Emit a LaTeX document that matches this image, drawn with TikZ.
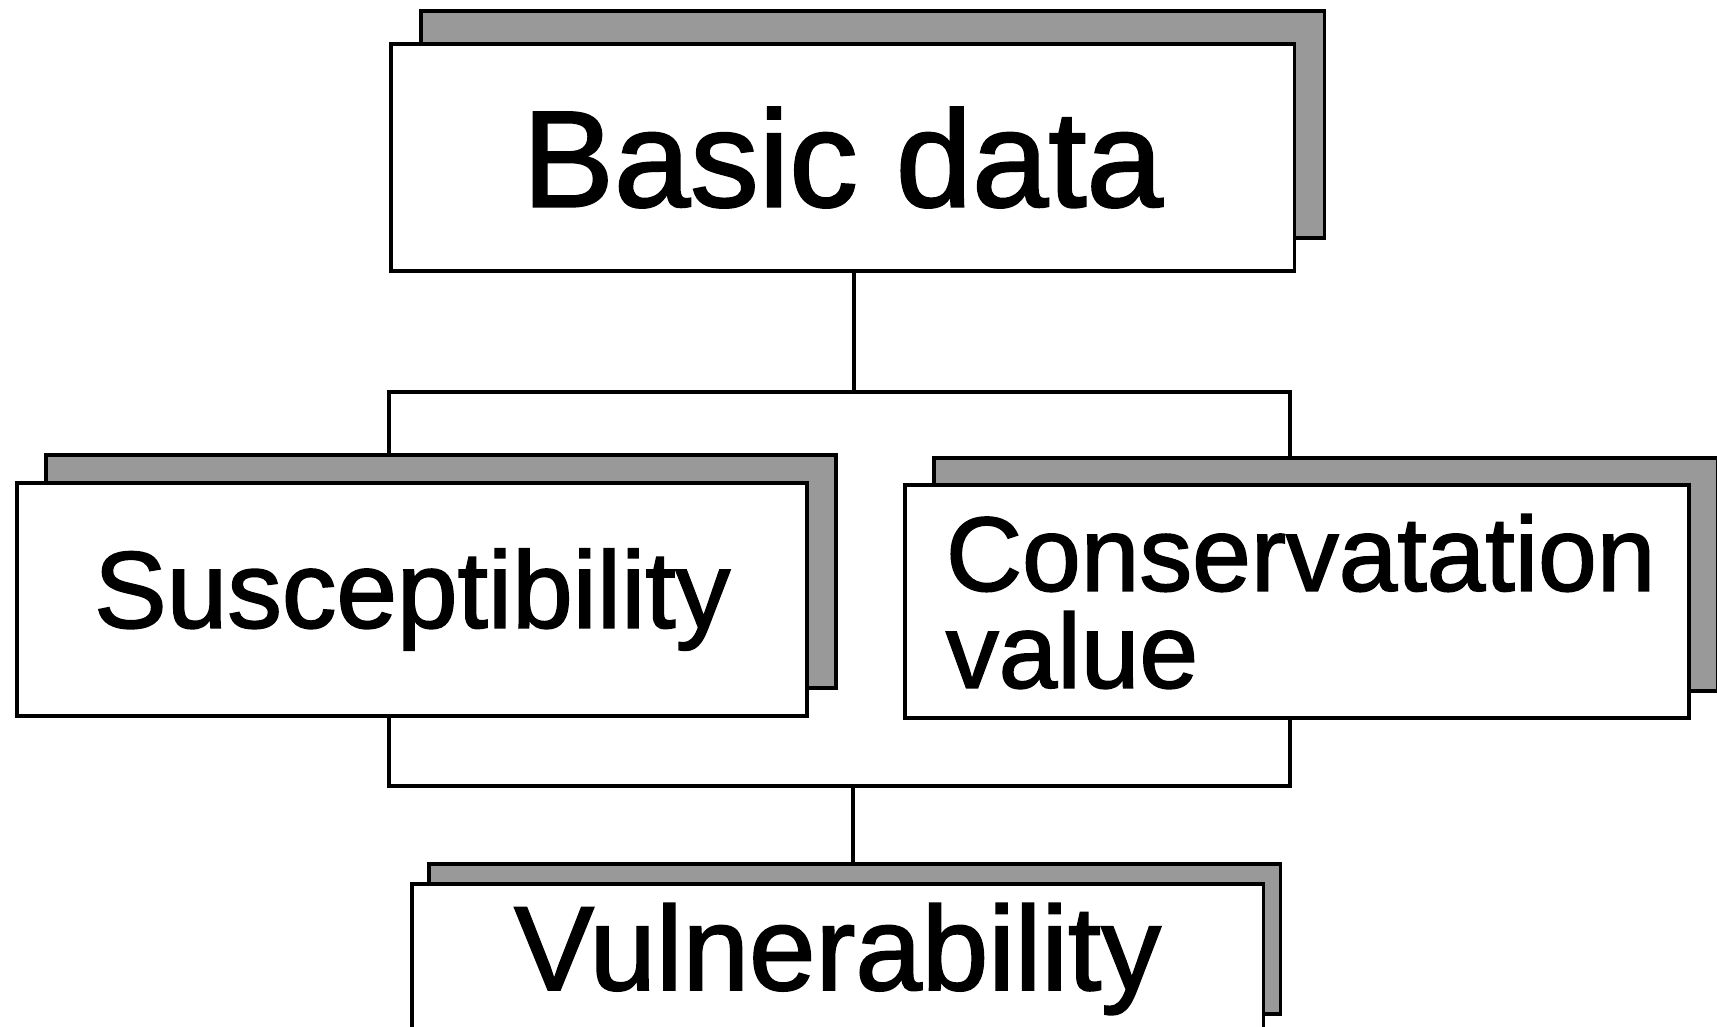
\documentclass[tikz,border=0pt]{standalone}
\usepackage{fontspec}
\setmainfont{Liberation Sans}[FakeBold=1.6]
\tikzset{
  frontbox/.style={draw,fill=white,line width=1.1pt,anchor=north west,inner sep=0pt},
  shadowbox/.style={draw,fill=black!40,line width=1.1pt,anchor=north west,inner sep=0pt},
  link/.style={line width=1.1pt}
}
\begin{document}
\begin{tikzpicture}[x=0.01cm,y=-0.01cm]
    \useasboundingbox (0,0) rectangle (1717,1027);
    % shadows
    \node[shadowbox,minimum width=9.03cm,minimum height=2.27cm] (bdS) at (419,9) {};
    \node[shadowbox,minimum width=7.90cm,minimum height=2.33cm] (susS) at (44,453) {};
    \node[shadowbox,minimum width=7.84cm,minimum height=2.33cm] (conS) at (932,456) {};
    \node[shadowbox,minimum width=8.51cm,minimum height=1.50cm] (vulS) at (427,862) {};
    % boxes
    \node[frontbox,minimum width=9.03cm,minimum height=2.27cm,font=\fontsize{39}{44}\selectfont] (bd) at (389,42) {Basic data};
    \node[frontbox,minimum width=7.90cm,minimum height=2.33cm,font=\fontsize{31}{34}\selectfont] (sus) at (15,481) {Susceptibility};
    \node[frontbox,minimum height=2.33cm,text width=7.02cm,inner xsep=0.41cm,align=left,font=\fontsize{30}{27.6}\selectfont] (con) at (903,483) {Conservatation\\value};
    \node[frontbox,minimum width=8.51cm,minimum height=1.50cm,font=\fontsize{34}{36}\selectfont] (vul) at (410,882) {Vulnerability};
    % connectors
    \coordinate (top) at (854,392);
    \coordinate (low) at (853,786);
    \draw[link] (top |- bd.south) -- (top);
    \draw[link] (389,0 |- susS.north) -- (389,0 |- top) -- (1290,0 |- top) -- (1290,0 |- conS.north);
    \draw[link] (389,0 |- sus.south) -- (389,0 |- low) -- (1290,0 |- low) -- (1290,0 |- con.south);
    \draw[link] (low) -- (low |- vulS.north);
\end{tikzpicture}
\end{document}
